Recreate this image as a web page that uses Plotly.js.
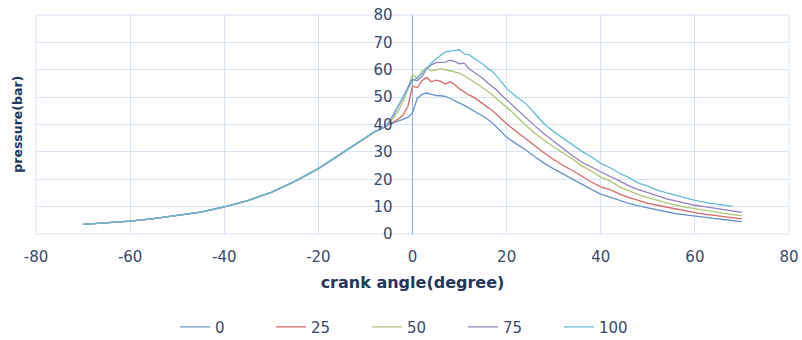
<!DOCTYPE html>
<html>
<head>
<meta charset="utf-8">
<script src="https://cdn.plot.ly/plotly-3.0.1.min.js"></script>
<style>html,body{margin:0;padding:0;background:#fff;}#chart{width:802px;height:340px;}</style>
</head>
<body>
<div id="chart"></div>
<script>
// crank angle (degree)
var angle = [-70,-65,-60,-55,-50,-45,-40,-35,-30,-25,-20,-15,-10,-8,-6,
  -5,-4,-3,-2,-1,0,1,2,3,4,5,6,7,8,9,10,11,12,13,14,15,16,17,18,19,20,
  22,24,26,28,30,32,34,36,38,40,42,44,46,48,50,52,54,56,58,60,62,64,66,68,70];

var seriesNames = ["0","25","50","75","100"];

// x tick labels (hyphen minus as in the original)
var xTickVals = [-80,-60,-40,-20,0,20,40,60,80];
var xTickText = ["-80","-60","-40","-20","0","20","40","60","80"];

// pressure (bar) for each load
var p0 = [3.5,4.0,4.7,5.6,6.7,8.0,9.9,12.2,15.2,19.2,23.9,29.5,35.3,37.4,39.0,
  40.0,40.6,41.2,41.8,42.6,44.2,49.5,51.0,51.5,51.0,50.6,50.5,50.3,49.5,48.5,47.8,47.0,46.0,45.2,44.2,43.0,41.8,40.5,38.8,37.0,35.3,
  33.0,30.8,28.2,25.8,23.8,21.9,20.2,18.0,16.3,14.6,13.4,12.2,11.2,10.3,9.6,8.9,8.2,7.4,7.0,6.5,6.1,5.7,5.3,4.9,4.5];
var p25 = [3.5,4.0,4.7,5.6,6.7,8.0,9.9,12.2,15.2,19.2,23.9,29.5,35.3,37.4,39.0,
  40.2,41.0,42.0,43.5,46.5,54.0,53.5,56.0,57.2,55.6,56.2,55.8,54.8,55.6,54.5,53.0,51.8,50.8,50.0,48.8,47.6,46.3,45.0,43.5,41.8,40.3,
  37.5,34.8,32.0,29.6,27.2,25.0,23.2,21.0,19.0,17.2,16.2,14.6,13.3,12.3,11.2,10.5,9.8,9.0,8.4,7.8,7.3,6.9,6.5,6.0,5.5];
var p50 = [3.5,4.0,4.7,5.6,6.7,8.0,9.9,12.2,15.2,19.2,23.9,29.5,35.3,37.4,39.0,
  40.5,42.5,45.0,48.5,53.0,58.3,56.8,59.5,60.8,59.6,60.0,60.3,60.0,59.6,59.3,58.8,57.8,56.8,55.8,54.5,53.3,52.2,50.8,49.2,47.8,46.3,
  43.2,39.8,36.8,34.2,31.8,29.6,27.4,24.8,23.0,20.8,19.4,17.2,15.8,14.4,13.3,12.3,11.4,10.5,9.8,9.2,8.6,8.0,7.6,7.1,6.7];
var p75 = [3.5,4.0,4.7,5.6,6.7,8.0,9.9,12.2,15.2,19.2,23.9,29.5,35.3,37.4,39.0,
  40.8,43.5,46.5,50.0,53.5,56.5,56.0,57.5,60.3,61.8,62.6,62.8,62.8,63.5,63.0,62.2,62.4,60.4,59.3,58.2,56.8,55.2,53.8,52.4,50.6,49.0,
  45.8,42.5,39.5,36.5,33.8,31.2,28.6,26.2,24.4,22.5,21.0,19.4,17.6,16.2,15.2,14.0,12.8,12.0,11.2,10.5,10.0,9.5,8.8,8.4,7.9];
var p100 = [3.5,4.0,4.7,5.6,6.7,8.0,9.9,12.2,15.2,19.2,23.9,29.5,35.3,37.4,39.0,
  41.0,44.0,47.0,50.0,53.0,55.8,57.0,58.5,60.5,62.5,64.0,65.2,66.5,66.8,67.0,67.3,65.8,65.5,64.3,63.2,62.0,60.5,59.3,57.5,55.2,53.2,
  50.2,47.8,44.0,40.2,37.4,35.0,32.6,30.2,28.2,25.8,24.2,22.2,20.6,18.6,17.5,16.0,15.0,14.0,13.2,12.3,11.6,11.0,10.6,10.1,null];

var colors = ["#6a92cc","#d46a66","#adc777","#9681b9","#67bcd5"];
var series = [p0,p25,p50,p75,p100];

var traces = series.map(function(s,i){
  return {x: angle, y: s, name: seriesNames[i], type: "scatter", mode: "lines",
    line: {color: colors[i], width: 1.3}};
});

var tickColor = "#3b4a67";
var titleColor = "#22375b";
var gridColor = "#d9e4f3";
var fontFam = "'DejaVu Sans', sans-serif";

var layout = {
  width: 802, height: 340,
  margin: {l: 36, r: 13, t: 15, b: 106},
  paper_bgcolor: "#fff", plot_bgcolor: "#fff",
  font: {family: fontFam, color: tickColor},
  showlegend: true,
  legend: {orientation: "h", x: 0.1846, xanchor: "left", yref: "container", y: 0.038, yanchor: "middle",
    font: {size: 15, color: tickColor, family: fontFam}, entrywidth: 51, entrywidthmode: "pixels"},
  xaxis: {range: [-80, 80], tickvals: xTickVals, ticktext: xTickText, showgrid: true, gridcolor: gridColor,
    zeroline: true, zerolinecolor: "#8fb0dd", zerolinewidth: 1, automargin: false,
    showline: false, ticks: "outside", ticklen: 9, tickcolor: "rgba(0,0,0,0)",
    tickfont: {size: 15, color: tickColor, family: fontFam},
    title: {text: "crank angle(degree)", standoff: 11, font: {size: 16, color: titleColor, family: fontFam, weight: "bold"}}},
  yaxis: {range: [0, 80], dtick: 10, showgrid: true, gridcolor: gridColor, zeroline: false,
    anchor: "free", position: 0.5, side: "left", showline: false, automargin: false,
    ticks: "outside", ticklen: 17, tickcolor: "rgba(0,0,0,0)",
    tickfont: {size: 15, color: tickColor, family: fontFam}},
  shapes: [{type: "rect", xref: "paper", yref: "paper", x0: 0, x1: 1, y0: 0, y1: 1,
    line: {color: gridColor, width: 1}, layer: "below"}],
  annotations: [{text: "pressure(bar)", xref: "paper", yref: "paper", x: -0.025, y: 0.5,
    xanchor: "center", yanchor: "middle", textangle: -90, showarrow: false,
    font: {size: 12.5, color: titleColor, family: fontFam, weight: "bold"}}]
};

Plotly.newPlot("chart", traces, layout, {displayModeBar: false, staticPlot: true});
</script>
</body>
</html>
